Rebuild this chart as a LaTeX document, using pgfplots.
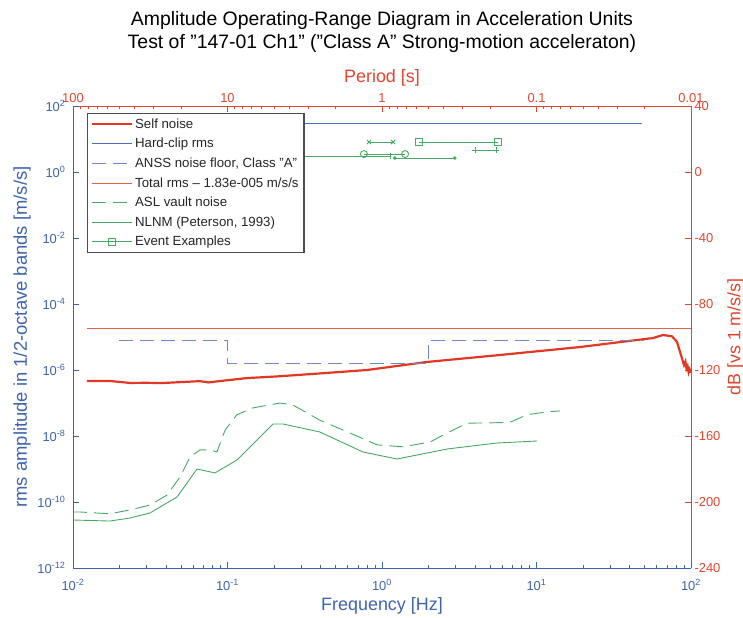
\documentclass[border=0pt]{standalone}
\usepackage{pgfplots}
\pgfplotsset{compat=1.18}
\usepackage{fontspec}
\setmainfont{Liberation Sans}

\definecolor{axblue}{RGB}{60,100,175}
\definecolor{axred}{RGB}{225,70,45}
\definecolor{selfred}{RGB}{228,55,35}
\definecolor{clipblue}{RGB}{75,110,180}
\definecolor{anssblue}{RGB}{110,140,195}
\definecolor{totred}{RGB}{232,95,75}
\definecolor{evgreen}{RGB}{70,170,100}

\newcommand{\tickfont}{\fontsize{13}{15}\selectfont}
\newcommand{\labfont}{\fontsize{18}{21}\selectfont}

\pgfkeys{/pgf/number format/assume math mode=true}

\begin{document}
\begin{tikzpicture}
\path[use as bounding box] (-73bp,-50bp) rectangle (670bp,568bp);

% top axis: period
\begin{axis}[scale only axis, width=618bp, height=462bp, at={(0,0)}, anchor=south west,
  xmode=log, xmin=0.01, xmax=100, tick align=inside, major tick length=6bp, minor tick length=3.5bp,
  x dir=reverse, axis x line*=top, axis y line=none, ymin=0, ymax=1,
  axis line style={axred, line width=0.7pt}, tick style={axred, line width=0.6pt},
  xtick={0.01,0.1,1,10,100}, xticklabels={0.01,0.1,1,10,100},
  minor xtick={0.02,0.03,0.04,0.05,0.06,0.07,0.08,0.09,0.2,0.3,0.4,0.5,0.6,0.7,0.8,0.9,2,3,4,5,6,7,8,9,20,30,40,50,60,70,80,90},
  ticklabel style={font=\tickfont, text=axred}, xlabel={Period [s]}, xlabel style={font=\labfont, text=axred},
  title={Amplitude Operating-Range Diagram in Acceleration Units\\Test of \symbol{34}147-01 Ch1\symbol{34} (\symbol{34}Class A\symbol{34} Strong-motion acceleraton)},
  title style={at={(axis description cs:0.5,1.148)}, anchor=center, align=center, font=\fontsize{19.5}{23}\selectfont}]
\end{axis}

% right axis: dB
\begin{axis}[scale only axis, width=618bp, height=462bp, at={(0,0)}, anchor=south west,
  xmin=0.01, xmax=100, tick align=inside, major tick length=6bp,
  axis x line=none, axis y line*=right, ymin=-240, ymax=40,
  axis line style={axred, line width=0.7pt}, tick style={axred, line width=0.6pt},
  ytick={-240,-200,-160,-120,-80,-40,0,40}, ticklabel style={font=\tickfont, text=axred},
  ylabel={dB [vs 1 m/s/s]}, ylabel style={font=\labfont, text=axred}]
\end{axis}

% main axis: amplitude vs frequency
\begin{axis}[scale only axis, width=618bp, height=462bp, at={(0,0)}, anchor=south west,
  xmode=log, ymode=log, xmin=0.01, xmax=100, ymin=1e-12, ymax=1e2,
  tick align=inside, major tick length=6bp, minor tick length=3.5bp,
  axis x line*=bottom, axis y line*=left,
  axis line style={axblue, line width=0.7pt}, tick style={axblue, line width=0.6pt},
  xtick={0.01,0.1,1,10,100},
  xticklabels={10\textsuperscript{-2},10\textsuperscript{-1},10\textsuperscript{0},10\textsuperscript{1},10\textsuperscript{2}},
  minor xtick={0.02,0.03,0.04,0.05,0.06,0.07,0.08,0.09,0.2,0.3,0.4,0.5,0.6,0.7,0.8,0.9,2,3,4,5,6,7,8,9,20,30,40,50,60,70,80,90},
  ytick={1e-12,1e-10,1e-8,1e-6,1e-4,1e-2,1,100}, yminorticks=false,
  yticklabels={10\textsuperscript{-12},10\textsuperscript{-10},10\textsuperscript{-8},10\textsuperscript{-6},10\textsuperscript{-4},10\textsuperscript{-2},10\textsuperscript{0},10\textsuperscript{2}},
  ticklabel style={font=\tickfont, text=axblue},
  xticklabel shift=8bp, yticklabel shift=4bp,
  xlabel={Frequency [Hz]}, ylabel={rms amplitude in 1/2-octave bands [m/s/s]},
  label style={font=\labfont, text=axblue}, ylabel style={font=\fontsize{18.5}{21}\selectfont},
  legend image code/.code={\draw[mark repeat=2,mark phase=2,#1] plot coordinates {(0bp,0bp) (20bp,0bp) (40bp,0bp)};},
  legend style={at={(axis description cs:0.0227,0.985)}, anchor=north west, draw=black!70, line width=1.2pt,
    fill=white, font=\fontsize{13.3}{16}\selectfont, text=black!85, row sep=3.9bp, inner xsep=3bp, inner ysep=2.8bp,
    nodes={inner sep=2.3bp}, cells={anchor=west}}]

\addplot[selfred, line width=2.2pt] coordinates {
(0.0123,4.64e-7) (0.0174,4.64e-7) (0.0234,4.05e-7) (0.03,4.1e-7) (0.0366,4.0e-7) (0.05,4.3e-7)
(0.0664,4.6e-7) (0.075,4.2e-7) (0.085,4.5e-7) (0.134,5.7e-7) (0.2,6.3e-7) (0.357,7.6e-7) (0.8,1.0e-6)
(1.95,1.75e-6) (5.8,2.85e-6) (19.1,4.97e-6) (56.8,9.3e-6) (65.9,1.15e-5) (75.3,1.05e-5) (81.2,7.1e-6)
(86.1,2.85e-6) (90.1,1.41e-6) (92,1.8e-6) (93.5,1.1e-6) (95,1.3e-6) (96.5,0.85e-6) (98,1.05e-6) (100,0.82e-6)};
\addlegendentry{Self noise}

\addplot[clipblue, line width=0.9pt] coordinates {(0.02,30) (48,30)};
\addlegendentry{Hard-clip rms}

\addplot[anssblue, line width=0.9pt, dash pattern=on 14bp off 7bp] coordinates {
(0.02,8.1e-6) (0.1,8.1e-6) (0.1,1.63e-6) (2,1.63e-6) (2,8.1e-6) (50,8.1e-6)};
\addlegendentry{ANSS noise floor, Class \symbol{34}A\symbol{34}}

\addplot[totred, line width=0.9pt] coordinates {(0.0123,1.83e-5) (100,1.83e-5)};
\addlegendentry{Total rms -- 1.83e-005 m/s/s}

\addplot[evgreen, line width=0.9pt, dash pattern=on 14bp off 7bp] coordinates {
(0.01,5.0e-11) (0.0111,4.98e-11) (0.0173,4.4e-11) (0.0234,5.75e-11) (0.0315,8.1e-11) (0.0406,1.62e-10)
(0.0493,5.75e-10) (0.0572,2.3e-9) (0.0664,3.8e-9) (0.077,3.8e-9) (0.0855,3.3e-9) (0.0964,1.5e-8)
(0.115,4.4e-8) (0.146,7.1e-8) (0.219,1.0e-7) (0.265,8.7e-8) (0.397,3.0e-8) (0.621,1.23e-8)
(0.929,5.4e-9) (1.37,4.7e-9) (2.05,6.6e-9) (2.64,1.23e-8) (3.55,2.45e-8) (5.0,2.5e-8) (6.73,2.6e-8)
(8.68,4.4e-8) (11.7,5.4e-8) (14.2,5.75e-8)};
\addlegendentry{ASL vault noise}

\addplot[evgreen, line width=0.9pt] coordinates {
(0.01,2.85e-11) (0.0173,2.65e-11) (0.0234,3.27e-11) (0.0315,4.65e-11) (0.0471,1.42e-10) (0.0635,1.0e-9)
(0.083,7.6e-10) (0.115,1.87e-9) (0.197,2.31e-8) (0.229,2.31e-8) (0.397,1.32e-8) (0.754,3.27e-9)
(1.25,2.01e-9) (2.64,4.04e-9) (5.55,6.14e-9) (10.07,7.05e-9)};
\addlegendentry{NLNM (Peterson, 1993)}

\addplot[evgreen, line width=0.9pt, mark=square, mark size=3.5bp, mark options={solid}] coordinates {(1.73,8.1) (5.64,8.1)};
\addlegendentry{Event Examples}

\addplot[evgreen, line width=0.9pt, mark=x, mark size=3bp, forget plot] coordinates {(0.824,8.1) (1.18,8.1)};
\addplot[evgreen, line width=0.9pt, mark=+, mark size=3bp, forget plot] coordinates {(4.0,4.6) (5.47,4.6)};
\addplot[evgreen, line width=0.9pt, mark=o, mark size=3.5bp, forget plot] coordinates {(0.764,3.5) (1.41,3.5)};
\addplot[evgreen, line width=0.9pt, mark=*, mark size=1.3bp, forget plot] coordinates {(1.21,2.65) (2.96,2.65)};
\addplot[evgreen, line width=0.9pt, mark=|, mark size=3bp, forget plot] coordinates {(0.3,3.0) (1.14,3.0)};
\end{axis}
\end{tikzpicture}
\end{document}
